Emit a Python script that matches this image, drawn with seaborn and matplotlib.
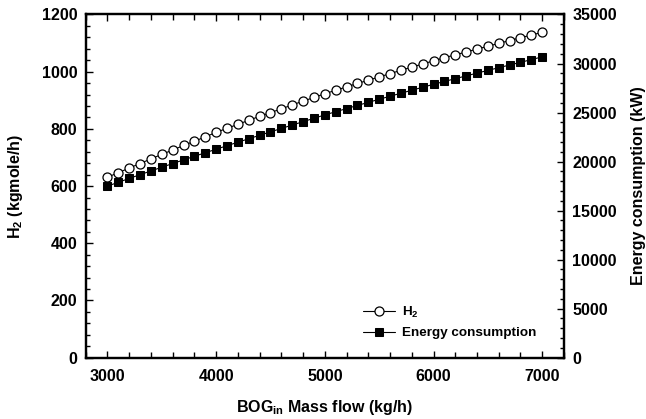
import matplotlib
matplotlib.use("Agg")
import matplotlib.pyplot as plt
import seaborn as sns
import pandas as pd
from matplotlib.ticker import MultipleLocator

sns.set_theme(style="white")
plt.rcParams['font.family'] = ['Liberation Sans', 'DejaVu Sans']
plt.rcParams['font.weight'] = 'bold'
plt.rcParams['mathtext.fontset'] = 'custom'
plt.rcParams['mathtext.rm'] = 'Liberation Sans:bold'
plt.rcParams['mathtext.bf'] = 'Liberation Sans:bold'
plt.rcParams['mathtext.default'] = 'bf'
plt.rcParams['text.color'] = 'black'
plt.rcParams['axes.labelcolor'] = 'black'
plt.rcParams['xtick.color'] = 'black'
plt.rcParams['ytick.color'] = 'black'

bog_mass_flow = list(range(3000, 7001, 100))
h2_flow = [631, 647, 663, 679, 695, 711, 726, 742, 757, 772,
           788, 802, 816, 830, 844, 857, 870, 884, 897, 910,
           923, 935, 947, 959, 970, 982, 993, 1005, 1016, 1027,
           1038, 1049, 1059, 1069, 1079, 1089, 1099, 1109, 1119, 1128,
           1138]
energy_kw = [17500, 17890, 18280, 18665, 19045, 19425, 19800, 20170, 20540, 20900,
             21260, 21620, 21975, 22330, 22680, 23030, 23380, 23725, 24070, 24415,
             24760, 25085, 25405, 25725, 26040, 26355, 26665, 26970, 27275, 27580,
             27880, 28170, 28455, 28740, 29020, 29300, 29575, 29850, 30120, 30400,
             30680]

df = pd.DataFrame({"bog": bog_mass_flow, "h2": h2_flow, "energy": energy_kw})

fig = plt.figure(figsize=(6.46, 4.19), dpi=100)
ax = fig.add_axes([0.1327, 0.1463, 0.7403, 0.8191])
ax2 = ax.twinx()

sns.lineplot(data=df, x="bog", y="h2", ax=ax, color="black", lw=0.8,
             marker="o", markersize=6.5, markerfacecolor="white",
             markeredgecolor="black", markeredgewidth=0.9, label="H$_2$", legend=False)
sns.lineplot(data=df, x="bog", y="energy", ax=ax2, color="black", lw=0.8,
             marker="s", markersize=6, markerfacecolor="black",
             markeredgecolor="black", label="Energy consumption", legend=False)

ax.set_xlim(2800, 7200)
ax.set_ylim(0, 1200)
ax2.set_ylim(0, 35000)

ax.xaxis.set_major_locator(MultipleLocator(1000))
ax.xaxis.set_minor_locator(MultipleLocator(200))
ax.yaxis.set_major_locator(MultipleLocator(200))
ax.yaxis.set_minor_locator(MultipleLocator(40))
ax2.yaxis.set_major_locator(MultipleLocator(5000))
ax2.yaxis.set_minor_locator(MultipleLocator(1000))

for a in (ax, ax2):
    for s in a.spines.values():
        s.set_linewidth(1.6)
        s.set_color("black")
ax.tick_params(axis="x", which="both", direction="in", top=True, bottom=True,
               width=1.0, colors="black", labelsize=11.5, pad=8)
ax.tick_params(axis="x", which="major", length=5)
ax.tick_params(axis="x", which="minor", length=4)
ax.tick_params(axis="y", which="both", direction="in", left=True, right=False,
               width=1.0, colors="black", labelsize=11.5, pad=6)
ax.tick_params(axis="y", which="major", length=5)
ax.tick_params(axis="y", which="minor", length=3)
ax2.tick_params(axis="y", which="both", direction="in", right=True, left=False,
                width=1.0, colors="black", labelsize=11.5, pad=6)
ax2.tick_params(axis="y", which="major", length=5)
ax2.tick_params(axis="y", which="minor", length=3)

for lbl in ax.get_xticklabels() + ax.get_yticklabels() + ax2.get_yticklabels():
    lbl.set_fontweight("bold")

ax.set_xlabel("BOG$_{in}$ Mass flow (kg/h)", fontsize=11.5, fontweight="bold",
              color="black", labelpad=10)
ax.set_ylabel("H$_2$ (kgmole/h)", fontsize=11.5, fontweight="bold",
              color="black", labelpad=12)
ax2.set_ylabel("Energy consumption (kW)", fontsize=11.5, fontweight="bold",
               color="black", labelpad=10)

h1, l1 = ax.get_legend_handles_labels()
h2, l2 = ax2.get_legend_handles_labels()
leg = ax2.legend(h1 + h2, l1 + l2, loc="lower right", bbox_to_anchor=(0.968, 0.018),
                 frameon=False, handlelength=2.4, handletextpad=0.5,
                 labelspacing=0.5, prop={"weight": "bold", "size": 9.7})
for t in leg.get_texts():
    t.set_color("black")

fig.savefig("out.png", dpi=100)
